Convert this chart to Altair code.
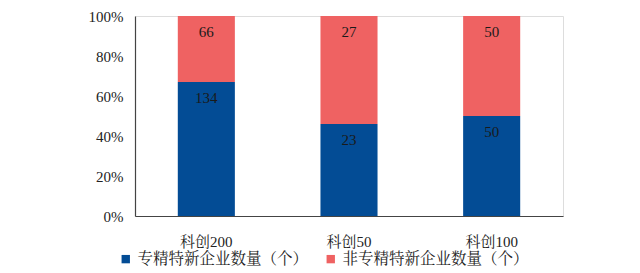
import altair as alt
import pandas as pd

categories = ["科创200", "科创50", "科创100"]
series = ["专精特新企业数量（个）", "非专精特新企业数量（个）"]
zjtx = [134, 23, 50]
non_zjtx = [66, 27, 50]

rows = []
for i, c in enumerate(categories):
    rows.append({"cat": c, "series": series[0], "value": zjtx[i], "ord": 0})
    rows.append({"cat": c, "series": series[1], "value": non_zjtx[i], "ord": 1})
df = pd.DataFrame(rows)

FONT = "Liberation Serif, Noto Serif CJK SC, Noto Sans CJK SC"

base = alt.Chart(df).transform_stack(
    stack="value", groupby=["cat"], sort=[alt.SortField("ord", order="ascending")],
    offset="normalize", as_=["y0", "y1"]
)

x_axis = alt.Axis(labelAngle=0, labelFont=FONT, labelFontSize=15, labelColor="#222",
                  labelPadding=18, ticks=False, domainColor="#444", domainWidth=1.2)
y_axis = alt.Axis(format="%", values=[0, 0.2, 0.4, 0.6, 0.8, 1.0], grid=False,
                  ticks=False, labelOverlap=False, labelFont=FONT, labelFontSize=15,
                  labelColor="#222", labelPadding=12, domainColor="#444", domainWidth=1.2)
x_scale = alt.Scale(paddingInner=0.6, paddingOuter=0.3)
y_scale = alt.Scale(domain=[0, 1])

bars = base.mark_bar().encode(
    x=alt.X("cat:N", sort=categories, title=None, scale=x_scale, axis=x_axis),
    y=alt.Y("y0:Q", title=None, scale=y_scale, axis=y_axis),
    y2="y1:Q",
    color=alt.Color("series:N", sort=series, title=None,
                    scale=alt.Scale(domain=series, range=["#034C95", "#EF6262"]),
                    legend=alt.Legend(orient="none", direction="horizontal", legendX=-17, legendY=235,
                                      symbolType="square", symbolSize=70, symbolStrokeWidth=0,
                                      labelFont=FONT, labelFontSize=15.5, labelColor="#222",
                                      columnPadding=14, labelLimit=300)),
)

labels = base.mark_text(dy=16, font=FONT, fontSize=15, color="#1a1a1a").encode(
    x=alt.X("cat:N", sort=categories, title=None, scale=x_scale, axis=x_axis),
    y=alt.Y("y1:Q", title=None, scale=y_scale, axis=y_axis),
    text="value:Q",
)

chart = (bars + labels).properties(
    width=428, height=200,
    autosize=alt.AutoSizeParams(type="none"),
    padding={"left": 135, "top": 16, "right": 77, "bottom": 57},
).configure_view(stroke=None).configure(background="white")

chart.save("out.html", embed_options={"renderer": "svg", "actions": False})
